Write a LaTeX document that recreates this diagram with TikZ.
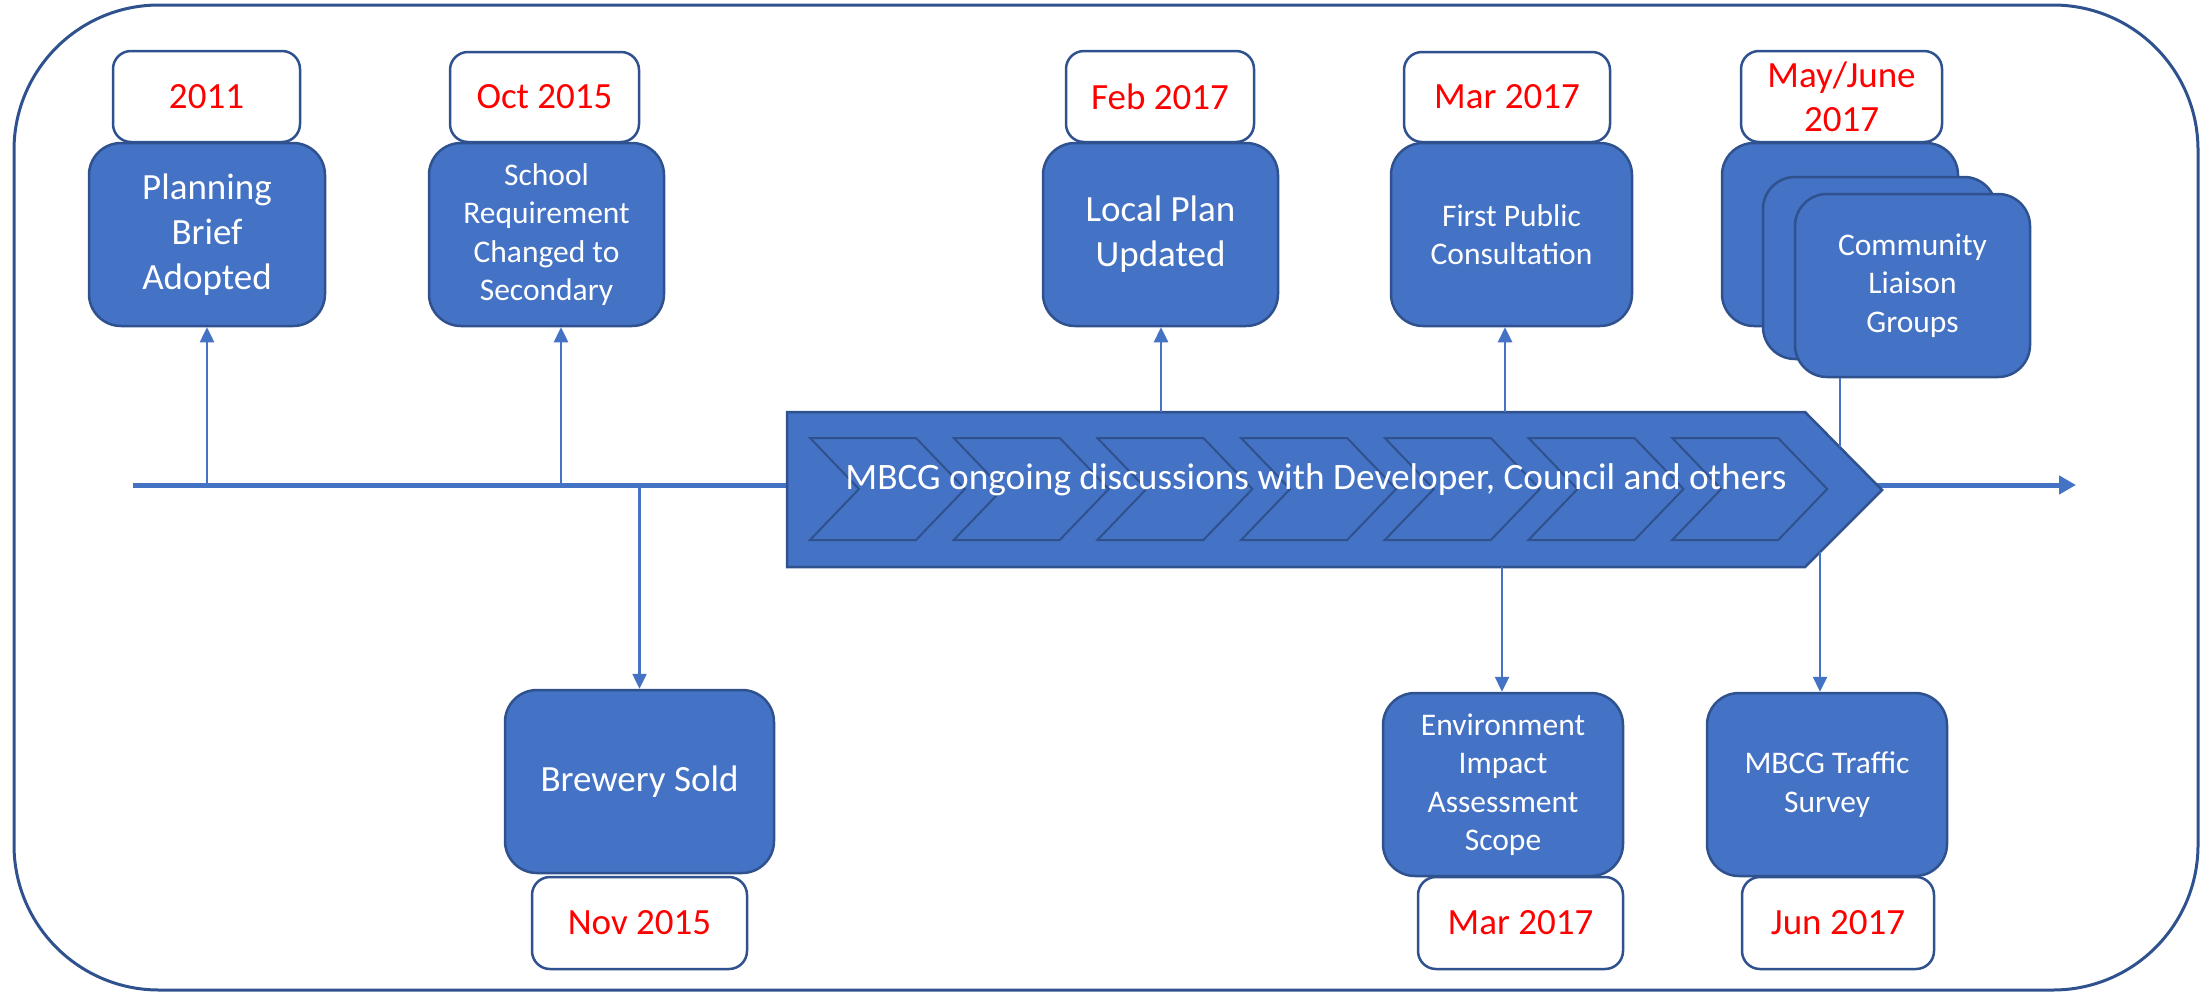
\documentclass[tikz,border=0pt]{standalone}
\usepackage{fontspec}
\setmainfont{Carlito}
\usetikzlibrary{arrows.meta}
\definecolor{evblue}{HTML}{4472C4}
\definecolor{evline}{HTML}{2F528F}
\definecolor{datered}{HTML}{FF0000}
\begin{document}
\begin{tikzpicture}[x=1pt,y=-1pt,
  evbox/.style={draw=evline, fill=evblue, line width=2.5pt, rounded corners=32pt, text=white, align=center, inner sep=0pt},
  bigtxt/.style={font=\fontsize{37}{45}\selectfont},
  smalltxt/.style={font=\fontsize{31.5}{38.5}\selectfont},
  datebox/.style={draw=evline, fill=white, line width=2.5pt, rounded corners=18pt, text=datered, align=center, inner sep=0pt, font=\fontsize{37}{44}\selectfont},
  conn/.style={draw=evblue, line width=2.5pt},
  arr/.style={conn, -{Triangle[length=15pt,width=14pt]}},
  chevpart/.style={draw=evline, fill=evblue, line width=2pt, line join=miter},
]
\useasboundingbox (0,0) rectangle (2200,993);
% outer frame
\draw[evline, line width=3pt, rounded corners=145pt] (14,5) rectangle (2198,990);

% timeline
\coordinate (tlstart) at (133,485);
\coordinate (tlend) at (2076,485);
\draw[evblue, line width=5pt, -{Triangle[length=17pt,width=18pt]}] (tlstart) -- (tlend);

% process chevron
\draw[chevpart, line width=2.5pt] (787,412) -- (1805,412) -- (1882,490) -- (1805,567) -- (787,567) -- cycle;
\foreach \i in {0,...,6} {
  \pgfmathsetmacro{\xo}{810+143.7*\i}
  \draw[chevpart] (\xo,438) -- ++(106,0) -- ++(49,51) -- ++(-49,51) -- ++(-106,0) -- ++(49,-51) -- cycle;
}
\node[text=white, font=\fontsize{37.3}{40}\selectfont, anchor=base, inner sep=0pt] (proc) at (1316,489) {MBCG ongoing discussions with Developer, Council and others};

% top date boxes
\node[datebox, minimum width=187pt, minimum height=91pt] (d1) at (206.5,96.5) {2011};
\node[datebox, minimum width=189pt, minimum height=90pt] (d2) at (544.5,97) {Oct 2015};
\node[datebox, minimum width=188pt, minimum height=91pt] (d3) at (1160,96.5) {Feb 2017};
\node[datebox, minimum width=206pt, minimum height=90pt] (d4) at (1507,97) {Mar 2017};
\node[datebox, minimum width=201pt, minimum height=91pt] (d5) at (1841.5,96.5) {May/June\\2017};

% top event boxes
\node[evbox, bigtxt, minimum width=236pt, minimum height=183pt] (ev1) at (207,234.5) {Planning\\Brief\\Adopted};
\node[evbox, smalltxt, minimum width=235pt, minimum height=183pt] (ev2) at (546.5,234.5) {School\\Requirement\\Changed to\\Secondary};
\node[evbox, bigtxt, minimum width=235pt, minimum height=183pt] (ev3) at (1160.5,234.5) {Local Plan\\Updated};
\node[evbox, smalltxt, minimum width=241pt, minimum height=183pt] (ev4) at (1511.5,234.5) {First Public\\Consultation};
\node[evbox, minimum width=236pt, minimum height=183pt] (ev5a) at (1840,234.5) {};
\node[evbox, minimum width=233pt, minimum height=182pt] (ev5b) at (1879.5,268) {};
\node[evbox, smalltxt, minimum width=235pt, minimum height=183pt] (ev5c) at (1912.5,285.5) {Community\\Liaison\\Groups};

% bottom date boxes
\node[datebox, minimum width=215pt, minimum height=92pt] (d6) at (639.5,923) {Nov 2015};
\node[datebox, minimum width=205pt, minimum height=92pt] (d7) at (1520.5,923) {Mar 2017};
\node[datebox, minimum width=192pt, minimum height=92pt] (d8) at (1838,923) {Jun 2017};

% bottom event boxes
\node[evbox, bigtxt, minimum width=269pt, minimum height=183pt] (ev6) at (639.5,781.5) {Brewery Sold};
\node[evbox, smalltxt, minimum width=240pt, minimum height=183pt] (ev7) at (1503,784.5) {Environment\\Impact\\Assessment\\Scope};
\node[evbox, smalltxt, minimum width=240pt, minimum height=183pt] (ev8) at (1827,784.5) {MBCG Traffic\\Survey};

% connectors
\coordinate (t1) at (207,485);
\coordinate (t2) at (561,485);
\coordinate (t6) at (639.5,485);
\coordinate (c3) at (1161,412);
\coordinate (c4) at (1505,412);
\coordinate (c5) at (1840,447);
\coordinate (c7) at (1502,567);
\coordinate (c8) at (1820,552);
\draw[arr] (t1) -- (t1 |- ev1.south);
\draw[arr] (t2) -- (t2 |- ev2.south);
\draw[arr] (t6) -- (t6 |- ev6.north);
\draw[arr] (c3) -- (c3 |- ev3.south);
\draw[arr] (c4) -- (c4 |- ev4.south);
\draw[conn, line width=2pt] (c5 |- ev5c.south) -- (c5);
\draw[arr] (c7) -- (c7 |- ev7.north);
\draw[arr] (c8) -- (c8 |- ev8.north);
\end{tikzpicture}
\end{document}
